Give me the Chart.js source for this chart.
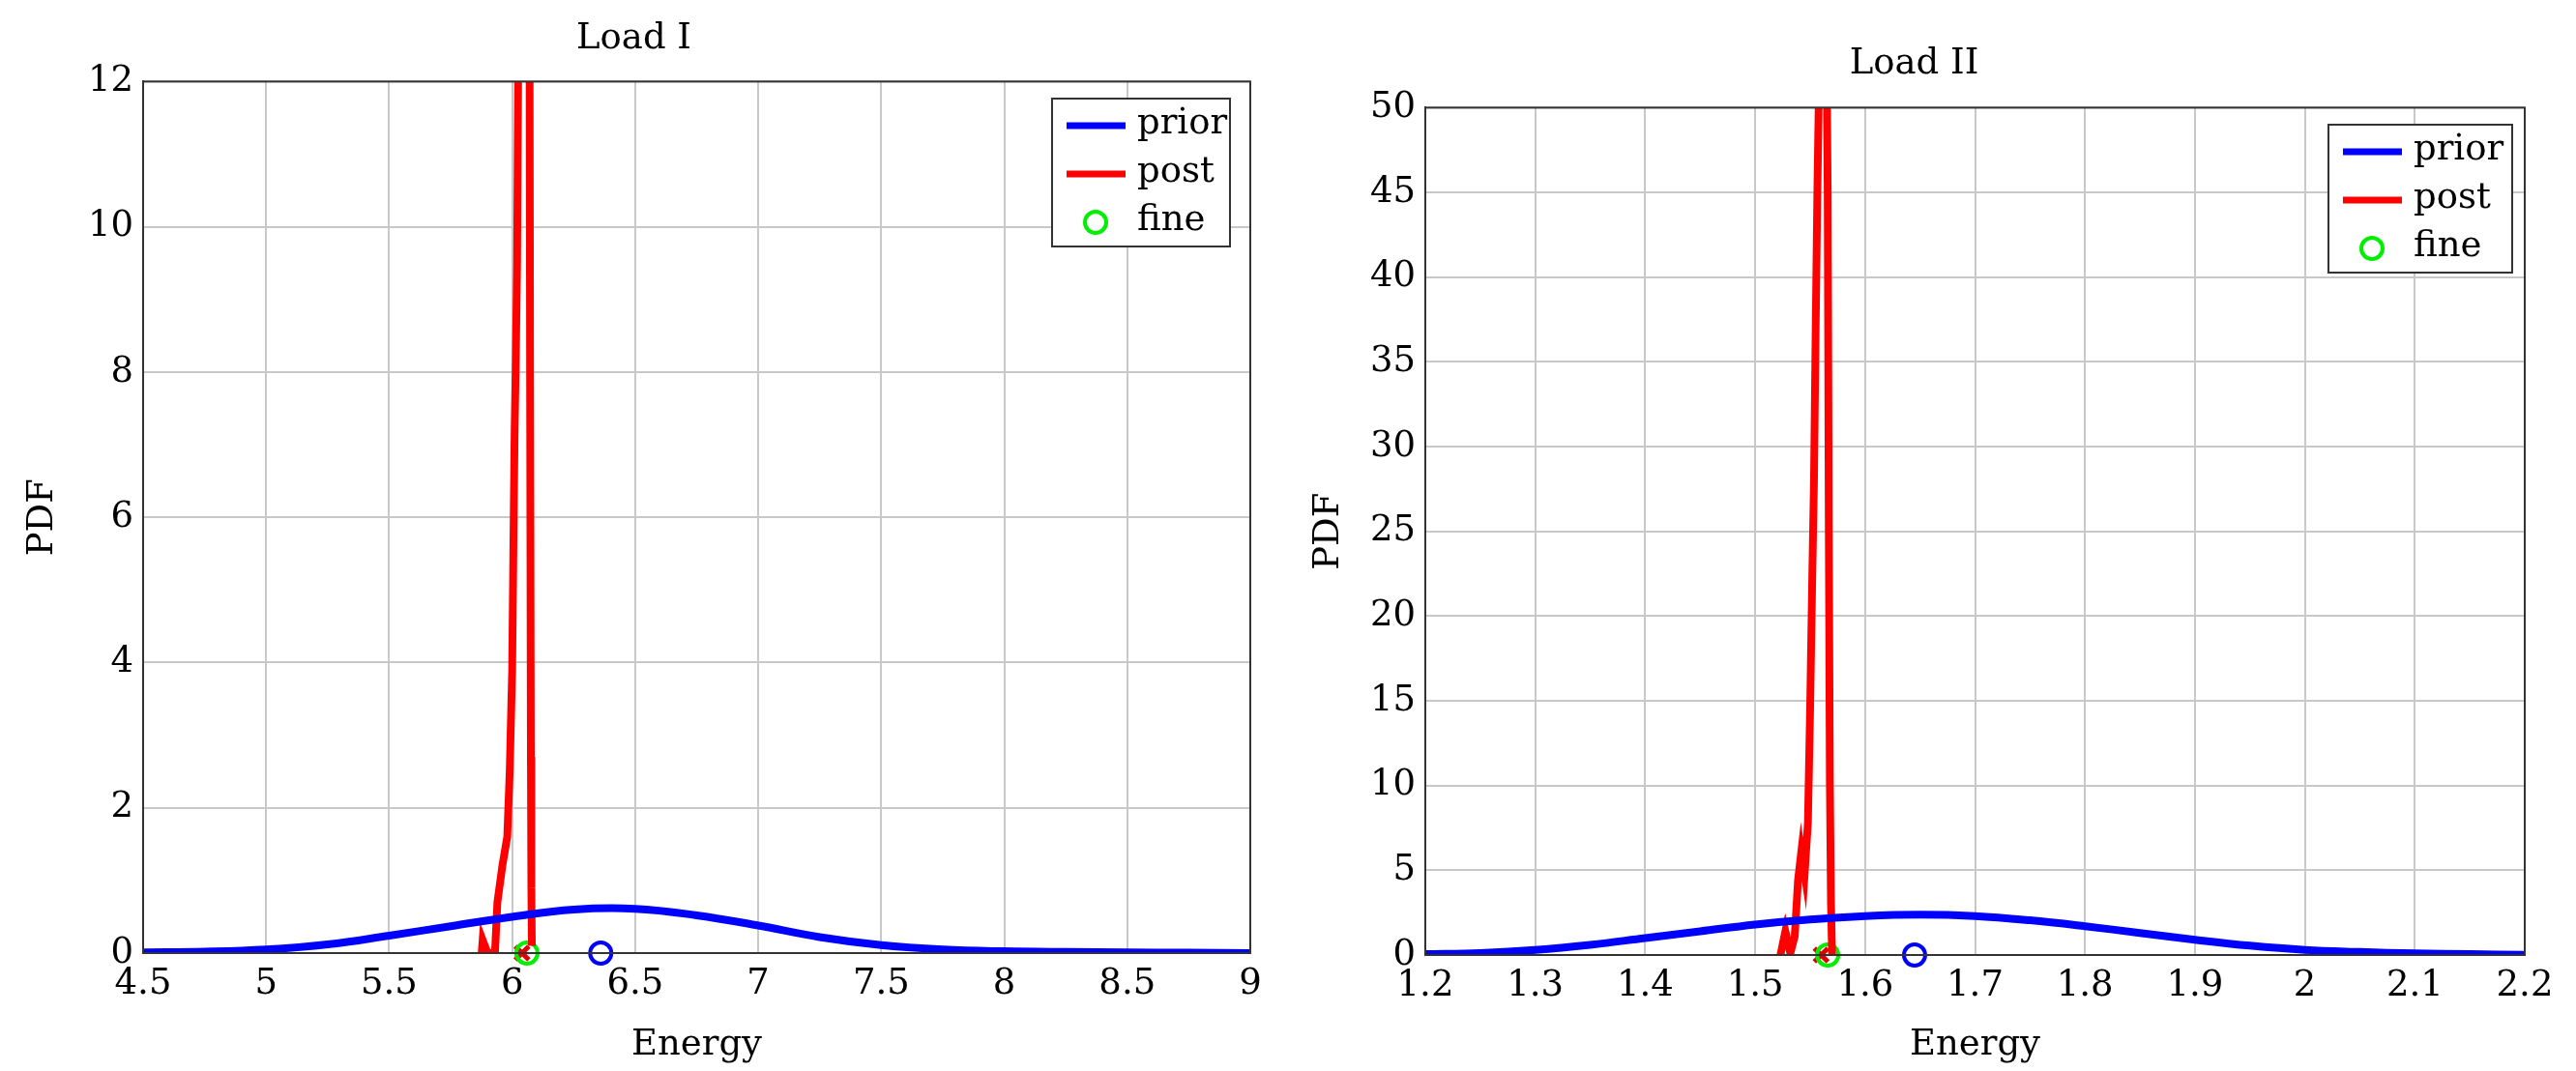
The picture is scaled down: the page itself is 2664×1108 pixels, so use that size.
<!DOCTYPE html>
<html><head><meta charset="utf-8">
<script src="https://cdn.jsdelivr.net/npm/chart.js@4"></script>
<style>body{margin:0;background:#fff;width:2664px;height:1108px;overflow:hidden;position:relative}
canvas{position:absolute;top:0}</style></head><body>
<div style="position:absolute;left:0;top:0;width:1330px;height:1108px"><canvas id="c1"></canvas></div>
<div style="position:absolute;left:1330px;top:0;width:1334px;height:1108px"><canvas id="c2"></canvas></div>
<script>
// Load I
const prior1X=[4.5,4.75,5.0,5.25,5.5,5.75,6.0,6.25,6.5,6.75,7.0,7.25,7.5,7.75,8.0,8.25,8.5,8.75,9.0];
const prior1Y=[0.01,0.02,0.05,0.12,0.24,0.37,0.50,0.60,0.61,0.52,0.38,0.22,0.11,0.05,0.025,0.015,0.01,0.005,0.0];
const post1X=[5.876,5.88,5.90,5.93,5.94,5.96,5.98,5.99,6.00,6.005,6.01,6.015,6.02,6.025,6.03,6.07,6.073,6.076,6.078,6.08];
const post1Y=[0,0.18,0,0,0.7,1.2,1.6,2.5,3.9,5.6,7.2,8.2,9.5,12.5,14,14,7.6,2.7,0.9,0.1];
const mark1={post:6.04,fine:6.06,prior:6.36};
// Load II
const prior2X=[1.2,1.25,1.3,1.35,1.4,1.45,1.5,1.55,1.6,1.65,1.7,1.75,1.8,1.85,1.9,1.95,2.0,2.05,2.1,2.15,2.2];
const prior2Y=[0.05,0.12,0.3,0.6,1.0,1.4,1.8,2.1,2.3,2.38,2.3,2.05,1.7,1.3,0.9,0.55,0.3,0.18,0.1,0.05,0.02];
const post2X=[1.523,1.5275,1.532,1.536,1.539,1.542,1.545,1.548,1.550,1.552,1.5535,1.555,1.5565,1.558,1.560,1.565,1.566,1.567,1.568,1.569,1.570];
const post2Y=[0,1.4,0.1,1.1,4.4,6.1,4.8,7.8,14.5,22.5,27.9,36.6,44.6,51,53,53,45,25,10,3,0];
const mark2={post:1.560,fine:1.566,prior:1.645};

const FONT="'DejaVu Serif','Liberation Serif',serif";
const FS=37;
function pts(xs,ys){return xs.map((x,i)=>({x:x,y:ys[i]}));}
function legendPlugin(box){return {id:'lg',afterDraw(ch){const c=ch.ctx;c.save();
  c.fillStyle='#fff';c.fillRect(box.x,box.y,box.w,box.h);
  c.strokeStyle='#333';c.lineWidth=2;c.strokeRect(box.x,box.y,box.w,box.h);
  c.font=FS+'px '+FONT;c.fillStyle='#000';c.textBaseline='middle';
  const rows=[['prior','#0000ff','line'],['post','#ff0000','line'],['fine','#00ee00','circ']];
  rows.forEach((r,i)=>{const y=box.y+28+i*50;
    if(r[2]=='line'){c.strokeStyle=r[1];c.lineWidth=7;c.beginPath();c.moveTo(box.x+15,y);c.lineTo(box.x+76,y);c.stroke();}
    else{c.strokeStyle=r[1];c.lineWidth=4;c.beginPath();c.arc(box.x+45,y,11,0,Math.PI*2);c.stroke();}
    c.fillText(r[0],box.x+88,y-2);});
  c.restore();}};}
function make(id,cfg){
  const ds=[
    {data:pts(cfg.px,cfg.py),borderColor:'#0000ff',borderWidth:8,showLine:true,pointRadius:0,tension:0.4},
    {data:pts(cfg.qx,cfg.qy),borderColor:'#ff0000',borderWidth:8,showLine:true,pointRadius:0},
    {data:[{x:cfg.m.prior,y:0}],borderColor:'#0000ff',borderWidth:4,pointRadius:11,pointStyle:'circle',backgroundColor:'rgba(0,0,0,0)',clip:false},
    {data:[{x:cfg.m.fine,y:0}],borderColor:'#00ee00',borderWidth:4,pointRadius:11,pointStyle:'circle',backgroundColor:'rgba(0,0,0,0)',clip:false},
    {data:[{x:cfg.m.post,y:0}],borderColor:'#e00000',borderWidth:5,pointRadius:10,pointStyle:'crossRot',clip:false}
  ];
  const fmt=v=>String(Number(v.toFixed(2)));
  new Chart(document.getElementById(id),{type:'scatter',data:{datasets:ds},
    options:{responsive:true,maintainAspectRatio:false,animation:false,
      layout:{padding:{right:cfg.padR,left:18,bottom:0,top:0}},
      plugins:{legend:{display:false},tooltip:{enabled:false},
        title:{display:true,text:cfg.title,color:'#000',font:{family:FONT,size:FS,weight:'normal'},padding:{top:cfg.tt,bottom:cfg.tb}}},
      scales:{
        x:{type:'linear',min:cfg.xmin,max:cfg.xmax,afterFit(s){s.height=cfg.xh;},
          ticks:{stepSize:cfg.xstep,color:'#000',font:{family:FONT,size:FS},maxRotation:0,autoSkip:false,padding:10,callback:fmt},
          grid:{color:'#c8c8c8',lineWidth:2,tickLength:0},border:{color:'#333',width:2},
          title:{display:true,text:'Energy',color:'#000',font:{family:FONT,size:FS},padding:{top:10}}},
        y:{min:0,max:cfg.ymax,afterFit(s){s.width=cfg.yw;},
          ticks:{stepSize:cfg.ystep,color:'#000',font:{family:FONT,size:FS},padding:10,callback:fmt},
          grid:{color:'#c8c8c8',lineWidth:2,tickLength:0},border:{color:'#333',width:2},
          title:{display:true,text:'PDF',color:'#000',font:{family:FONT,size:FS},padding:{bottom:10}}}
      }},
    plugins:[legendPlugin(cfg.box),{id:'frame',afterDraw(ch){const a=ch.chartArea,c=ch.ctx;c.save();c.strokeStyle='#333';c.lineWidth=2;c.strokeRect(a.left,a.top,a.right-a.left,a.bottom-a.top);c.restore();}}]
  });
}
make('c1',{px:prior1X,py:prior1Y,qx:post1X,qy:post1Y,m:mark1,title:'Load I',xmin:4.5,xmax:9,xstep:0.5,ymax:12,ystep:2,
  padR:37,tt:18,tb:22,xh:122,yw:130,box:{x:1088,y:102,w:184,h:153}});
make('c2',{px:prior2X,py:prior2Y,qx:post2X,qy:post2Y,m:mark2,title:'Load II',xmin:1.2,xmax:2.2,xstep:0.1,ymax:50,ystep:5,
  padR:53,tt:44,tb:23,xh:120,yw:126,box:{x:1078,y:129,w:190,h:153}});
</script></body></html>
